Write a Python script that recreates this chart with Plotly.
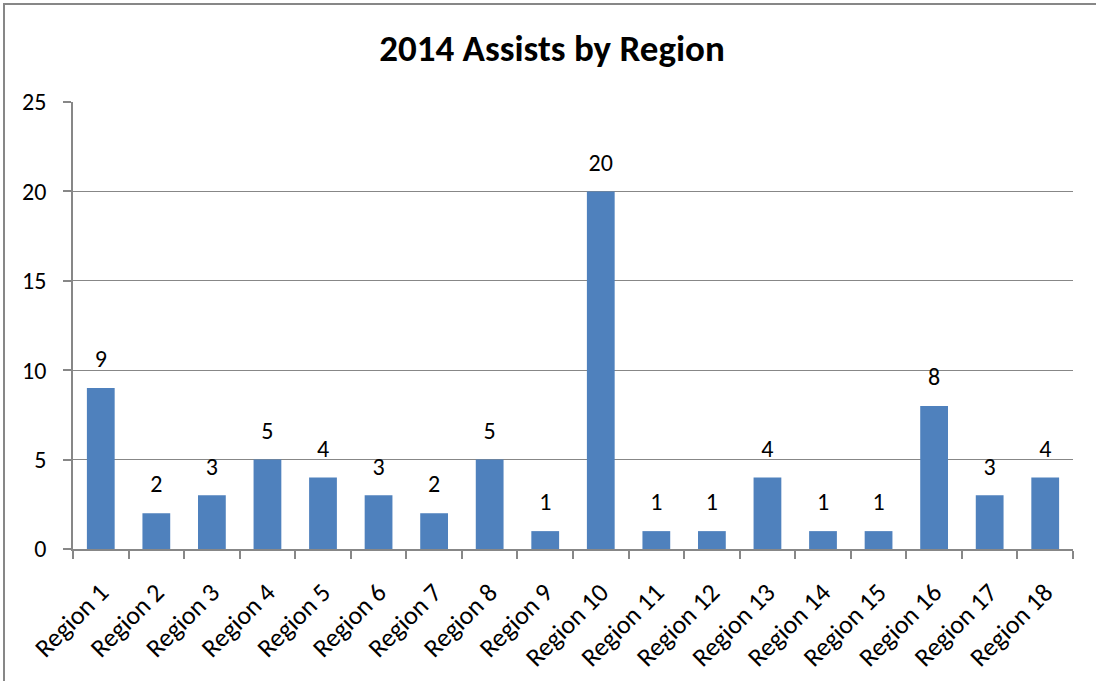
import plotly.graph_objects as go

categories = [f"Region {i}" for i in range(1, 19)]
values = [9, 2, 3, 5, 4, 3, 2, 5, 1, 20, 1, 1, 4, 1, 1, 8, 3, 4]
y_ticks = [0, 5, 10, 15, 20, 25]
title = "2014 Assists by Region"

font_family = "Carlito, Calibri, 'Open Sans', 'Liberation Sans', sans-serif"

fig = go.Figure()
fig.add_trace(go.Bar(
    x=categories, y=values,
    marker=dict(color="#4F81BD", line=dict(width=0)),
    width=0.5,
))
fig.add_trace(go.Scatter(
    x=categories, y=values, mode="markers+text",
    marker=dict(size=22, color="rgba(0,0,0,0)"),
    text=[str(v) for v in values], textposition="top center",
    textfont=dict(size=24, color="black", family=font_family),
    cliponaxis=False, hoverinfo="skip",
))

W, H = 1096, 681
ml, mr, mt, mb = 73, 23, 102, 132
pw, ph = W - ml - mr, H - mt - mb

fig.update_layout(
    width=W, height=H,
    margin=dict(l=ml, r=mr, t=mt, b=mb, autoexpand=False),
    paper_bgcolor="white", plot_bgcolor="white",
    font=dict(family=font_family, color="black"),
    title=dict(text="<b>" + title + "</b>", x=552 / W, xref="container",
               xanchor="center", y=1 - 48 / H, yref="container", yanchor="middle",
               font=dict(size=37, family=font_family)),
    showlegend=False,
    bargap=0.5,
    shapes=[dict(type="rect", xref="paper", yref="paper",
                 x0=(4 - ml) / pw, x1=(W + 20 - ml) / pw,
                 y0=-(H + 20 - mt - ph) / ph, y1=(H - mb - 4) / ph,
                 line=dict(color="#878787", width=2), fillcolor="rgba(0,0,0,0)",
                 layer="below")],
)
fig.update_xaxes(
    type="category", range=[-0.5, len(categories) - 0.5],
    tickangle=-45, tickson="boundaries", automargin=False,
    ticks="outside", ticklen=8, tickcolor="#878787", tickwidth=1.5,
    showline=True, linecolor="#878787", linewidth=1.5,
    showgrid=False,
    tickfont=dict(size=26, family=font_family),
    ticklabelstandoff=16,
)
fig.update_yaxes(
    range=[0, 25], tickvals=y_ticks, ticks="outside", ticklen=8,
    tickcolor="#878787", tickwidth=1.5, automargin=False,
    showline=True, linecolor="#878787", linewidth=1.5,
    showgrid=True, gridcolor="#878787", gridwidth=1.2,
    zeroline=False,
    tickfont=dict(size=24, family=font_family),
    ticklabelstandoff=12,
)

fig.write_html("out.html", config={"displayModeBar": False},
               post_script="document.body.style.margin='0';document.body.style.overflow='hidden';")
